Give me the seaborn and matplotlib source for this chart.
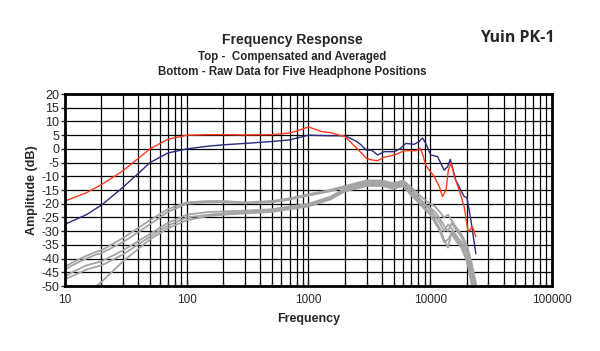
import matplotlib
matplotlib.use("Agg")
import matplotlib.pyplot as plt
import matplotlib.ticker as mticker
import seaborn as sns
import numpy as np

# ---- data ----
comp_freq = [10, 15, 20, 30, 40, 50, 70, 100, 150, 200, 300, 500, 700, 800, 1000, 1300, 1500,
             2000, 2400, 2800, 3000, 3300, 3700, 4200, 5100, 6100, 7000, 7600, 8300, 8700, 9200,
             9800, 10800, 11900, 12600, 13500, 14100, 14800, 15800, 17300, 19000, 20500, 22300, 23700]
comp_red = [-19, -16, -13, -8, -3.5, 0, 3.5, 5, 5.2, 5.2, 5.1, 5.2, 5.8, 6.5, 8, 6.3, 6,
            4.5, 1, -2, -3.5, -4, -4.3, -3, -2.2, -0.7, -0.6, -0.7, 0.2, -2.2, -5.9,
            -7.7, -10.1, -13.8, -17.4, -15, -7.7, -5.2, -10.1, -15, -21, -30.2, -28.4, -32]

blue_freq = [10, 15, 20, 30, 40, 50, 70, 100, 150, 200, 300, 500, 700, 1000, 1500, 2000, 2500,
             2700, 3000, 3300, 3700, 4200, 5100, 5700, 6300, 7400, 8100, 8650, 9200, 10100, 11500,
             13000, 13900, 14600, 15200, 16200, 17800, 19000, 20000, 21600, 23700]
comp_blue = [-27.5, -24, -20.5, -14, -9, -5, -1.5, 0, 1, 1.5, 2, 2.7, 3.3, 5, 4.8, 4.8, 2.7,
             1.5, -0.5, -0.4, -2.2, -1, -1, 0.2, 2, 1.7, 2.7, 4, 2, -2.2, -2.8,
             -7.7, -6.5, -3.8, -6.5, -11.3, -15, -17.4, -17.7, -26, -38.2]

raw_freq = [10, 12, 15, 18, 20, 30, 50, 70, 100, 150, 200, 300, 500, 700, 1000, 1500, 2000,
            3000, 4000, 5000, 6000, 7000, 8000, 9000, 10000, 11000, 12000, 13000, 14000, 15000,
            16000, 18000, 20000, 22000, 24000]
raw_1 = [-43, -41, -39, -37.5, -37, -32.5, -26, -22, -19.5, -19, -19, -19.5, -19, -18, -16.5, -15, -13.5,
         -11.5, -11.5, -12.5, -11.5, -14, -16.5, -18.5, -20, -21, -23, -25, -24, -26,
         -28, -31, -35, -42, -50]
raw_2 = [-44, -42, -40, -38.5, -38, -34, -27.5, -23, -20, -19.5, -19.5, -19.8, -19.5, -18.5, -17, -15.5, -14,
         -12, -12, -13, -12, -15, -17.5, -20, -21.5, -23, -25.5, -28, -30, -27,
         -29, -32, -37, -44, -52]
raw_3 = [-46.5, -44.5, -42.5, -41.5, -41, -37, -31, -27, -24, -23, -22.8, -22.5, -22, -21, -20, -17.5, -14.5,
         -12.5, -12.5, -13.5, -12.5, -16, -18, -20.5, -22, -24.5, -27, -30, -27.5, -29,
         -31, -34, -38, -46, -53]
raw_4 = [-47.5, -46, -44, -43, -42.5, -38.5, -32, -28, -25, -24, -23.5, -23, -22.5, -21.5, -20.5, -18, -15,
         -13, -13, -14, -13, -16.5, -19, -21.5, -23, -26, -29, -33, -36, -30,
         -32, -35, -40, -48, -55]
raw_5 = [-60, -57, -53, -50, -48.5, -41, -33, -29, -26, -24.5, -24, -23.5, -23, -22, -21, -18.5, -15.5,
         -13.5, -13.5, -14.5, -13.5, -17, -19.5, -22, -24, -27, -30, -34, -33, -31,
         -33, -36, -41, -50, -58]

x_ticks = [10, 100, 1000, 10000, 100000]
x_tick_labels = ["10", "100", "1000", "10000", "100000"]
y_ticks = list(range(-50, 25, 5))

# ---- plot ----
sns.set_style("white")
plt.rcParams["font.family"] = ["Liberation Sans", "DejaVu Sans"]

fig = plt.figure(figsize=(6.0, 3.51), dpi=100)
ax = fig.add_axes([0.108, 0.185, 0.812, 0.547])

gray = "#a4a4a4"
for r in [raw_1, raw_2, raw_3, raw_4, raw_5]:
    sns.lineplot(x=raw_freq, y=r, ax=ax, color=gray, lw=1.3, estimator=None, sort=False)
sns.lineplot(x=blue_freq, y=comp_blue, ax=ax, color="#2b2b80", lw=1.0, estimator=None, sort=False)
sns.lineplot(x=comp_freq, y=comp_red, ax=ax, color="#ff3a1c", lw=1.0, estimator=None, sort=False)

ax.set_xscale("log")
ax.set_xlim(10, 100000)
ax.set_ylim(-50, 20)
ax.set_xticks(x_ticks)
ax.set_xticklabels(x_tick_labels)
ax.xaxis.set_minor_locator(mticker.LogLocator(base=10, subs=np.arange(2, 10)))
ax.xaxis.set_minor_formatter(mticker.NullFormatter())
ax.set_yticks(y_ticks)
ax.set_yticklabels([str(v) for v in y_ticks])

ax.grid(True, which="both", axis="x", color="black", lw=0.9)
ax.grid(True, which="major", axis="y", color="black", lw=0.9)
for s in ax.spines.values():
    s.set_color("black")
    s.set_linewidth(2.0)

ax.tick_params(axis="x", which="major", direction="in", length=4, width=1, labelsize=8.5, pad=6, bottom=True)
ax.tick_params(axis="x", which="minor", direction="in", length=3, width=1, bottom=True)
ax.tick_params(axis="y", which="major", direction="out", length=3, width=1, labelsize=9, pad=1, left=True)

ax.set_xlabel("Frequency", fontsize=9, fontweight="bold", labelpad=5)
ax.set_ylabel("Amplitude (dB)", fontsize=9, fontweight="bold", labelpad=2)

fig.text(0.487, 0.885, "Frequency Response", ha="center", va="center", fontsize=10, fontweight="bold")
fig.text(0.487, 0.838, "Top -  Compensated and Averaged", ha="center", va="center", fontsize=8.3, fontweight="bold")
fig.text(0.487, 0.795, "Bottom - Raw Data for Five Headphone Positions", ha="center", va="center", fontsize=8.3, fontweight="bold")
fig.text(0.862, 0.893, "Yuin PK-1", ha="center", va="center", fontsize=11.5, fontweight="bold",
         family=["Open Sans", "DejaVu Sans"])

fig.savefig("out.png", dpi=100)
